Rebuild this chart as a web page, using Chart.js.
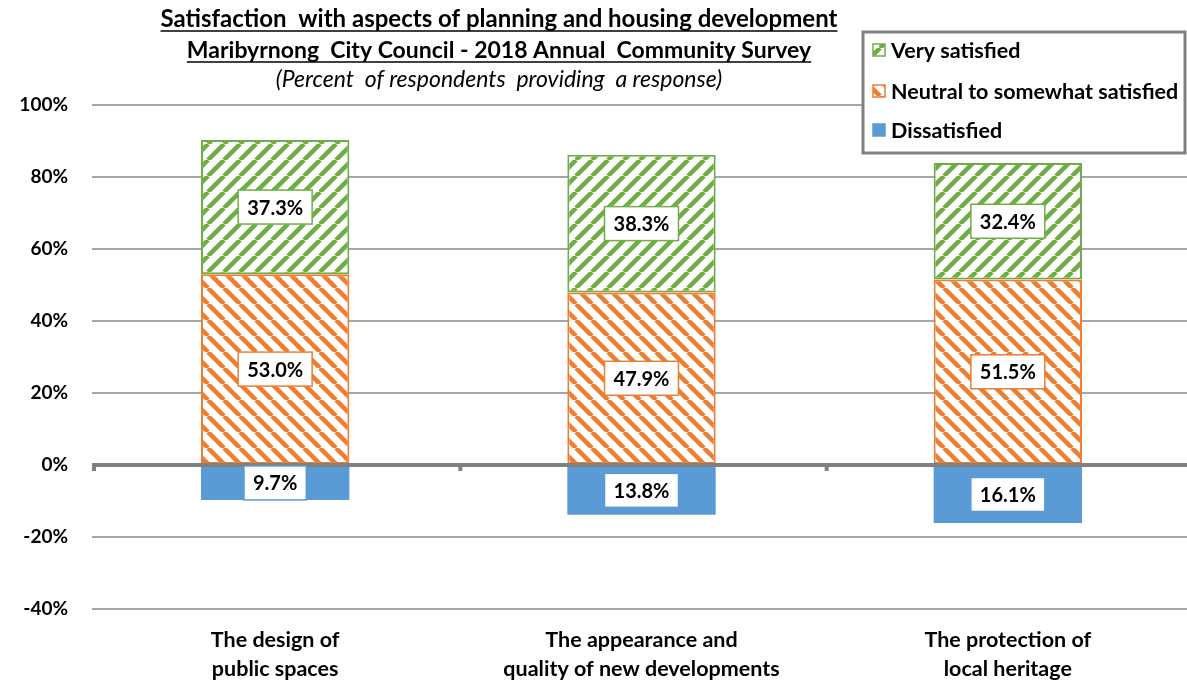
<!DOCTYPE html>
<html>
<head>
<meta charset="utf-8">
<script src="https://cdn.jsdelivr.net/npm/chart.js@4.4.0/dist/chart.umd.min.js"></script>
<style>
    html, body { margin: 0; padding: 0; background: #fff; overflow: hidden; }
    #area { width: 1191px; height: 681px; }
</style>
</head>
<body>
<div id="area"><canvas id="GraficoSatisfacao"></canvas></div>
<script>
/*Dados do gráfico*/
var categorias = [["The design of", "public spaces"], ["The appearance and", "quality of new developments"], ["The protection of", "local heritage"]];
var muitoSatisfeito = [37.3, 38.3, 32.4];
var neutro = [53.0, 47.9, 51.5];
var insatisfeito = [-9.7, -13.8, -16.1];
var nomesSeries = ["Very satisfied", "Neutral to somewhat satisfied", "Dissatisfied"];
var ticksY = [-40, -20, 0, 20, 40, 60, 80, 100];
var titulos = ["Satisfaction  with aspects of planning and housing development", "Maribyrnong  City Council - 2018 Annual  Community Survey"];
var subtitulo = "(Percent  of respondents  providing  a response)";

var fonte = "Lato, 'Open Sans', sans-serif";
var verde = "#70ad47";
var laranja = "#ed7d31";
var azul = "#5b9bd5";

/*Função para criar listras diagonais*/
function CriarListras(cor, direcao) {
    var t = 16;
    var c = document.createElement('canvas');
    c.width = t;
    c.height = t;
    var g = c.getContext('2d');
    g.fillStyle = '#fff';
    g.fillRect(0, 0, t, t);
    g.strokeStyle = cor;
    g.lineWidth = 4.5;
    g.beginPath();
    for (var k = -1; k <= 1; k++) {
        if (direcao == '/') {
            g.moveTo(k * t, t);
            g.lineTo(k * t + t, 0);
        } else {
            g.moveTo(k * t, 0);
            g.lineTo(k * t + t, t);
        }
    }
    g.stroke();
    return g.createPattern(c, 'repeat');
}

var listraVerde = CriarListras(verde, '/');
var listraLaranja = CriarListras(laranja, '\\');

/*Títulos sublinhados*/
var pluginTitulo = {
    id: 'titulo',
    afterDraw: function (chart) {
        var ctx = chart.ctx;
        var cx = 499;
        var tamanhos = [24, 23];
        var linhasY = [27, 58];
        ctx.save();
        ctx.fillStyle = '#000';
        ctx.strokeStyle = '#000';
        ctx.textAlign = 'center';
        ctx.textBaseline = 'alphabetic';
        titulos.forEach(function (t, i) {
            ctx.font = "bold " + tamanhos[i] + "px " + fonte;
            ctx.fillText(t, cx, linhasY[i]);
            var w = ctx.measureText(t).width;
            ctx.lineWidth = 1.5;
            ctx.beginPath();
            ctx.moveTo(cx - w / 2, linhasY[i] + 4);
            ctx.lineTo(cx + w / 2, linhasY[i] + 4);
            ctx.stroke();
        });
        ctx.font = "italic 23px " + fonte;
        ctx.textBaseline = 'middle';
        ctx.fillText(subtitulo, cx, 80);
        ctx.restore();
    }
};

/*Linha do zero, rótulos e legenda*/
var pluginExtras = {
    id: 'extras',
    afterDatasetsDraw: function (chart) {
        var ctx = chart.ctx;
        var x = chart.scales.x;
        var y = chart.scales.y;
        var area = chart.chartArea;
        var y0 = y.getPixelForValue(0);
        var passo = x.getPixelForValue(1) - x.getPixelForValue(0);

        ctx.save();
        ctx.fillStyle = '#808080';
        ctx.fillRect(area.left, y0 - 2, area.right - area.left, 4);
        for (var i = 0; i <= categorias.length; i++) {
            var px = x.getPixelForValue(0) - passo / 2 + i * passo;
            ctx.fillRect(px, y0, 4, 6);
        }

        ctx.font = "bold 20px " + fonte;
        ctx.textAlign = 'center';
        ctx.textBaseline = 'middle';
        chart.data.datasets.forEach(function (ds, d) {
            var meta = chart.getDatasetMeta(d);
            meta.data.forEach(function (bar, i) {
                var texto = Math.abs(ds.data[i]).toFixed(1) + '%';
                var cy = (bar.y + bar.base) / 2;
                var w = ctx.measureText(texto).width + 18;
                var h = 34;
                ctx.fillStyle = '#fff';
                ctx.fillRect(bar.x - w / 2, cy - h / 2, w, h);
                ctx.strokeStyle = ds.corBorda;
                ctx.lineWidth = 1.5;
                ctx.strokeRect(bar.x - w / 2, cy - h / 2, w, h);
                ctx.fillStyle = '#000';
                ctx.fillText(texto, bar.x, cy + 1);
            });
        });
        ctx.restore();
    },
    afterDraw: function (chart) {
        var ctx = chart.ctx;
        ctx.save();
        ctx.fillStyle = '#fff';
        ctx.fillRect(863, 32, 330, 121);
        ctx.strokeStyle = '#808080';
        ctx.lineWidth = 3;
        ctx.strokeRect(863, 32, 322, 121);

        var cores = [listraVerde, listraLaranja, azul];
        var bordas = [verde, laranja, azul];
        var itensY = [50, 91, 130];
        ctx.font = "bold 21.5px " + fonte;
        ctx.textAlign = 'left';
        ctx.textBaseline = 'middle';
        nomesSeries.forEach(function (nome, i) {
            ctx.fillStyle = cores[i];
            ctx.fillRect(873, itensY[i] - 6, 12, 12);
            ctx.strokeStyle = bordas[i];
            ctx.lineWidth = 1.5;
            ctx.strokeRect(873, itensY[i] - 6, 12, 12);
            ctx.fillStyle = '#000';
            ctx.fillText(nome, 891, itensY[i] + 1);
        });
        ctx.restore();
    }
};

/*Construção do gráfico*/
var ctx = document.getElementById('GraficoSatisfacao').getContext('2d');

var grafico = new Chart(ctx, {
    type: 'bar',
    data: {
        labels: categorias,
        datasets: [{
            label: nomesSeries[1],
            data: neutro,
            backgroundColor: listraLaranja,
            borderColor: laranja,
            corBorda: laranja,
            borderWidth: 2,
            borderSkipped: false
        }, {
            label: nomesSeries[0],
            data: muitoSatisfeito,
            backgroundColor: listraVerde,
            borderColor: verde,
            corBorda: verde,
            borderWidth: 2,
            borderSkipped: false
        }, {
            label: nomesSeries[2],
            data: insatisfeito,
            backgroundColor: azul,
            borderColor: azul,
            corBorda: azul,
            borderWidth: 0
        }]
    },
    options: {
        responsive: true,
        maintainAspectRatio: false,
        animation: false,
        layout: {
            padding: { top: 105, right: 0, left: 0, bottom: 0 }
        },
        datasets: {
            bar: { categoryPercentage: 1, barPercentage: 0.405 }
        },
        plugins: {
            legend: { display: false },
            title: { display: false },
            tooltip: { enabled: false }
        },
        scales: {
            x: {
                stacked: true,
                grid: { display: false },
                border: { display: false },
                ticks: {
                    color: '#000',
                    padding: 8,
                    font: { family: fonte, size: 21.5, weight: 'bold', lineHeight: 1.36 }
                },
                afterFit: function (s) { s.height = 72; }
            },
            y: {
                stacked: true,
                min: ticksY[0],
                max: ticksY[ticksY.length - 1],
                afterBuildTicks: function (s) {
                    s.ticks = ticksY.map(function (v) { return { value: v }; });
                },
                grid: {
                    color: '#a6a6a6',
                    lineWidth: 2,
                    drawTicks: false
                },
                border: { display: false },
                ticks: {
                    color: '#000',
                    padding: 24,
                    font: { family: fonte, size: 19, weight: 'bold' },
                    callback: function (v) { return v + '%'; }
                },
                afterFit: function (s) { s.width = 92; }
            }
        }
    },
    plugins: [pluginTitulo, pluginExtras]
});
</script>
</body>
</html>
